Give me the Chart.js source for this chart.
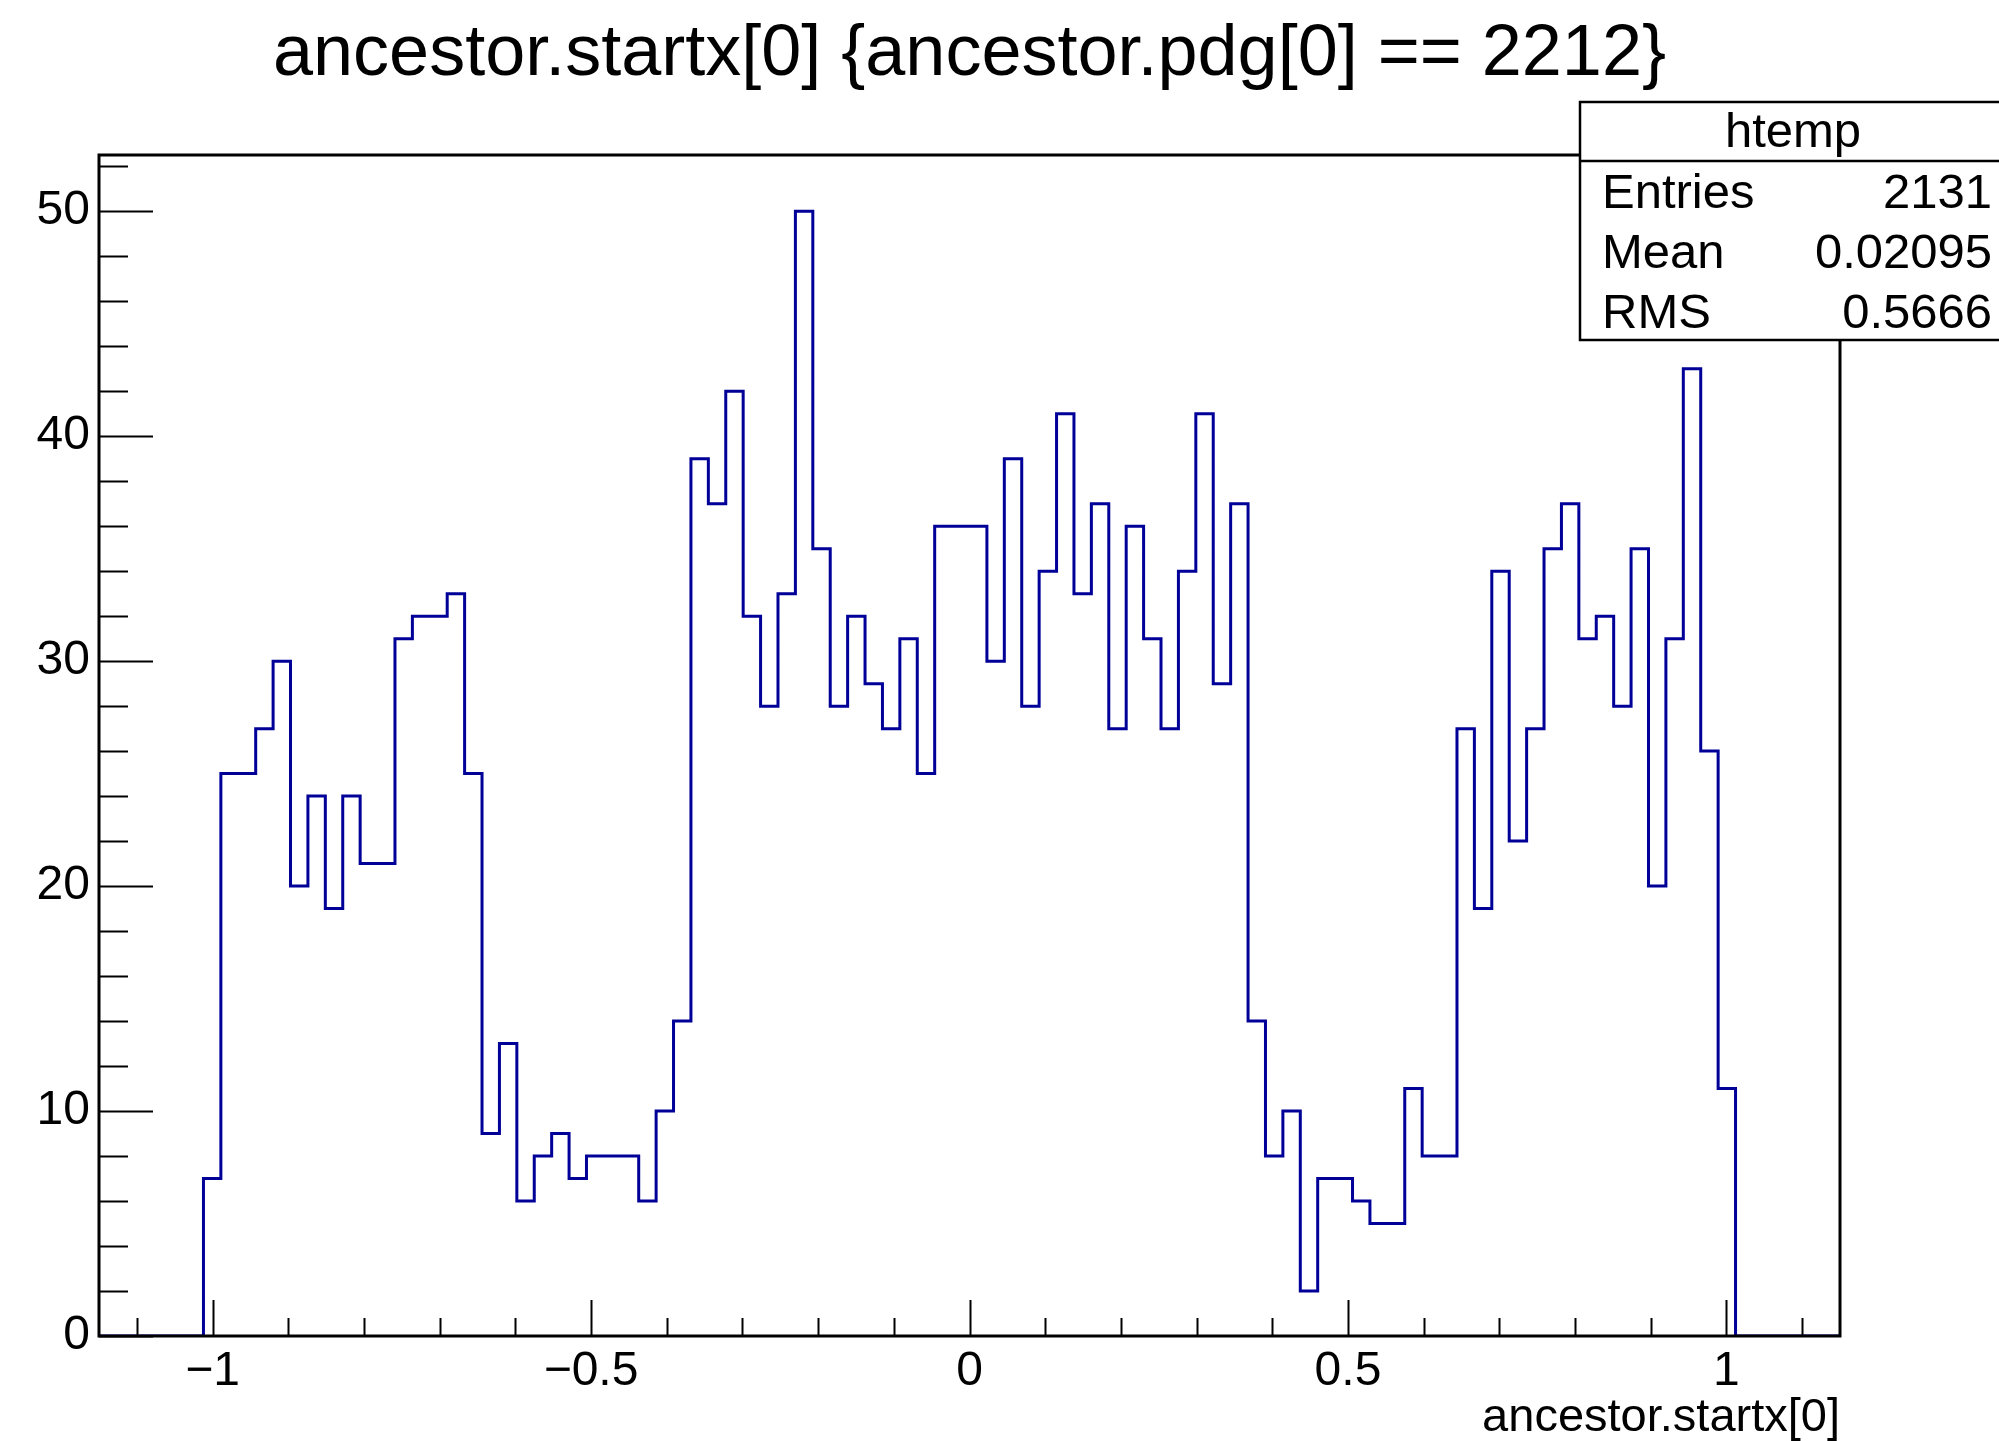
<!DOCTYPE html>
<html>
<head>
<meta charset="utf-8">
<script src="https://cdn.jsdelivr.net/npm/chart.js@4.4.0/dist/chart.umd.min.js"></script>
<style>
  html, body { margin: 0; padding: 0; background: #fff; }
  canvas { display: block; }
</style>
</head>
<body>
<canvas id="hist" width="1999" height="1441"></canvas>
<script>
const titleText = 'ancestor.startx[0] {ancestor.pdg[0] == 2212}';
const xTitle = 'ancestor.startx[0]';
const histName = 'htemp';
const statLabels = ['Entries', 'Mean', 'RMS'];
const statValues = ['2131', '0.02095', '0.5666'];

// histogram axis: 100 bins from -1.15 to 1.15
const xMin = -1.15;
const xMax = 1.15;
const nBins = 100;
const yMax = 52.5;
const xTickValues = [-1, -0.5, 0, 0.5, 1];
const xTickLabels = ['\u22121', '\u22120.5', '0', '0.5', '1'];
const yTickValues = [0, 10, 20, 30, 40, 50];
const yTickLabels = ['0', '10', '20', '30', '40', '50'];

// bin contents for bins 6..93, every other bin is empty
const firstBin = 6;
const counts = [
  7, 25, 25, 27, 30,
  20, 24, 19, 24, 21,
  21, 31, 32, 32, 33,
  25, 9, 13, 6, 8,
  9, 7, 8, 8, 8,
  6, 10, 14, 39, 37,
  42, 32, 28, 33, 50,
  35, 28, 32, 29, 27,
  31, 25, 36, 36, 36,
  30, 39, 28, 34, 41,
  33, 37, 27, 36, 31,
  27, 34, 41, 29, 37,
  14, 8, 10, 2, 7,
  7, 6, 5, 5, 11,
  8, 8, 27, 19, 34,
  22, 27, 35, 37, 31,
  32, 28, 35, 20, 31,
  43, 26, 11
];

const FONT = "'Liberation Sans', Arial, Helvetica, sans-serif";
const binW = (xMax - xMin) / nBins;

// one point per bin low edge, stepped line draws the outline
const points = [];
for (let i = 0; i < nBins; i++) {
  const j = i - firstBin;
  const c = (j >= 0 && j < counts.length) ? counts[j] : 0;
  points.push({ x: xMin + i * binW, y: c });
}
points.push({ x: xMax, y: 0 });

// ROOT style frame, inward ticks, title and stats box
const rootDecor = {
  id: 'rootDecor',
  afterDraw(chart) {
    const ctx = chart.ctx;
    const a = chart.chartArea;
    const xs = chart.scales.x;
    const ys = chart.scales.y;
    ctx.save();
    ctx.strokeStyle = '#000';

    // ticks
    ctx.lineWidth = 2;
    ctx.beginPath();
    for (let k = -11; k <= 11; k++) {
      const v = k / 10;
      const px = Math.round(xs.getPixelForValue(v)) + 0.5;
      const len = (k % 5 === 0) ? 36 : 18;
      ctx.moveTo(px, a.bottom);
      ctx.lineTo(px, a.bottom - len);
    }
    for (let v = 0; v <= 52; v += 2) {
      const py = Math.round(ys.getPixelForValue(v)) + 0.5;
      const len = (v % 10 === 0) ? 54 : 29;
      ctx.moveTo(a.left, py);
      ctx.lineTo(a.left + len, py);
    }
    ctx.stroke();

    // frame
    ctx.lineWidth = 3;
    ctx.strokeRect(a.left, a.top, a.right - a.left, a.bottom - a.top);

    // title
    ctx.fillStyle = '#000';
    ctx.font = '72px ' + FONT;
    ctx.textAlign = 'center';
    ctx.textBaseline = 'alphabetic';
    ctx.fillText(titleText, (a.left + a.right) / 2, 75);

    // stats box
    const bx = 1580, by = 102, bw = 440, bh = 238;
    ctx.fillStyle = '#fff';
    ctx.fillRect(bx, by, bw, bh);
    ctx.lineWidth = 2.5;
    ctx.strokeRect(bx, by, bw, bh);
    ctx.beginPath();
    ctx.moveTo(bx, 161);
    ctx.lineTo(bx + bw, 161);
    ctx.stroke();
    ctx.fillStyle = '#000';
    ctx.font = '49px ' + FONT;
    ctx.textAlign = 'center';
    ctx.fillText(histName, 1793, 147);
    const rowY = [208, 268, 328];
    statLabels.forEach((lab, i) => {
      ctx.textAlign = 'left';
      ctx.fillText(lab, 1602, rowY[i]);
      ctx.textAlign = 'right';
      ctx.fillText(statValues[i], 1992, rowY[i]);
    });
    ctx.restore();
  }
};

new Chart(document.getElementById('hist'), {
  type: 'line',
  data: {
    datasets: [{
      data: points,
      stepped: 'before',
      borderColor: '#000099',
      borderWidth: 3,
      pointRadius: 0,
      fill: false
    }]
  },
  options: {
    responsive: false,
    animation: false,
    devicePixelRatio: 1,
    layout: { padding: { top: 155, right: 159, left: 0, bottom: 0 } },
    plugins: {
      legend: { display: false },
      title: { display: false },
      tooltip: { enabled: false }
    },
    scales: {
      x: {
        type: 'linear',
        min: xMin,
        max: xMax,
        grid: { display: false, drawTicks: false },
        border: { display: false },
        afterBuildTicks: (s) => { s.ticks = xTickValues.map(v => ({ value: v })); },
        afterFit: (s) => { s.height = 105; },
        ticks: {
          autoSkip: false,
          maxRotation: 0,
          padding: 7,
          color: '#000',
          font: { family: FONT, size: 48 },
          callback: (v, i) => xTickLabels[i]
        },
        title: {
          display: true,
          text: xTitle,
          align: 'end',
          color: '#000',
          font: { family: FONT, size: 47 },
          padding: { top: 0, bottom: -5 }
        }
      },
      y: {
        min: 0,
        max: yMax,
        grid: { display: false, drawTicks: false },
        border: { display: false },
        afterBuildTicks: (s) => { s.ticks = yTickValues.map(v => ({ value: v })); },
        afterFit: (s) => { s.width = 99; },
        ticks: {
          autoSkip: false,
          padding: 9,
          color: '#000',
          font: { family: FONT, size: 48 },
          callback: (v, i) => yTickLabels[i]
        }
      }
    }
  },
  plugins: [rootDecor]
});
</script>
</body>
</html>
